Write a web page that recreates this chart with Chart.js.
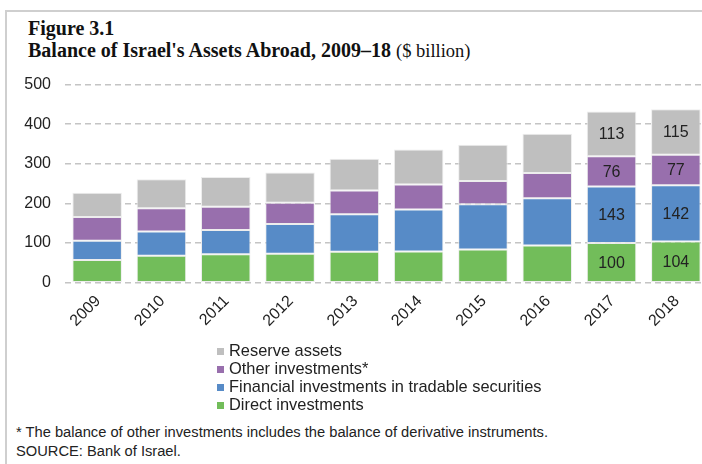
<!DOCTYPE html>
<html>
<head>
<meta charset="utf-8">
<script src="https://cdn.jsdelivr.net/npm/chart.js@4.4.1/dist/chart.umd.min.js"></script>
<style>
    html, body { margin: 0; padding: 0; background: #fff; overflow: hidden; width: 702px; height: 464px; }
    #frame { position: absolute; left: 5px; top: 10px; width: 720px; height: 470px; border-top: 2px solid #cfcfcf; border-left: 2px solid #cfcfcf; }
    .title { position: absolute; left: 28px; font-family: "Liberation Serif", "Times New Roman", serif; font-weight: bold; font-size: 20px; color: #111; white-space: nowrap; }
    .title span { font-weight: normal; font-size: 18.5px; }
    #chartBox { position: absolute; left: 0; top: 61px; width: 720px; height: 281px; }
    #legend { position: absolute; left: 217px; top: 341px; font-family: "Liberation Sans", Arial, sans-serif; font-size: 16.4px; color: #222; }
    #legend div { height: 18px; line-height: 18px; white-space: nowrap; }
    #legend i { display: inline-block; width: 7px; height: 7px; margin-right: 5px; vertical-align: 1px; }
    .note { position: absolute; left: 16px; font-family: "Liberation Sans", Arial, sans-serif; font-size: 14.7px; color: #222; white-space: nowrap; }
</style>
</head>
<body>
<div id="frame"></div>
<div class="title" style="top:17px">Figure 3.1</div>
<div class="title" style="top:39px">Balance of Israel's Assets Abroad, 2009–18 <span>($ billion)</span></div>
<div id="chartBox"><canvas id="chart" width="720" height="281"></canvas></div>
<div id="legend"></div>
<div class="note" style="top:424px">* The balance of other investments includes the balance of derivative instruments.</div>
<div class="note" style="top:443px">SOURCE: Bank of Israel.</div>
<script>
const years = ['2009', '2010', '2011', '2012', '2013', '2014', '2015', '2016', '2017', '2018'];
const directInvestments = [57, 68, 72, 73, 78, 79, 84, 94, 100, 104];
const financialInvestments = [49, 61, 61, 75, 95, 106, 114, 119, 143, 142];
const otherInvestments = [60, 59, 59, 54, 60, 63, 59, 64, 76, 77];
const reserveAssets = [61, 73, 75, 76, 80, 88, 91, 99, 113, 115];
const yTicks = [0, 100, 200, 300, 400, 500];
// only the last two years carry value labels
const labelledYears = ['2017', '2018'];

const datasets = [
    { label: 'Direct investments', data: directInvestments, backgroundColor: '#72bd5a' },
    { label: 'Financial investments in tradable securities', data: financialInvestments, backgroundColor: '#578bc7' },
    { label: 'Other investments*', data: otherInvestments, backgroundColor: '#986fad' },
    { label: 'Reserve assets', data: reserveAssets, backgroundColor: '#bfbfbf' }
];
datasets.forEach(ds => {
    ds.borderColor = 'rgba(235,235,235,0.9)';
    ds.borderWidth = 1;
    ds.borderSkipped = false;
    ds.barPercentage = 0.77;
    ds.categoryPercentage = 1;
});

// legend listed top-down in reverse stacking order
const legend = document.getElementById('legend');
datasets.slice().reverse().forEach(ds => {
    const row = document.createElement('div');
    const box = document.createElement('i');
    box.style.background = ds.backgroundColor;
    row.appendChild(box);
    row.appendChild(document.createTextNode(ds.label));
    legend.appendChild(row);
});

const valueLabels = {
    id: 'valueLabels',
    afterDatasetsDraw(chart) {
        const ctx = chart.ctx;
        ctx.save();
        ctx.font = '16px "Liberation Sans", Arial, sans-serif';
        ctx.fillStyle = '#222';
        ctx.textAlign = 'center';
        ctx.textBaseline = 'middle';
        chart.data.datasets.forEach((ds, i) => {
            chart.getDatasetMeta(i).data.forEach((bar, j) => {
                if (!labelledYears.includes(years[j])) return;
                const mid = (bar.y + bar.base) / 2;
                ctx.fillText(String(ds.data[j]), bar.x, mid + 1);
            });
        });
        ctx.restore();
    }
};

new Chart(document.getElementById('chart').getContext('2d'), {
    type: 'bar',
    data: { labels: years, datasets: datasets },
    options: {
        responsive: false,
        animation: false,
        layout: { padding: { top: 0, right: 12 } },
        plugins: { legend: { display: false }, tooltip: { enabled: false } },
        scales: {
            x: {
                stacked: true,
                grid: { display: false },
                border: { display: false },
                ticks: {
                    minRotation: 45, maxRotation: 45,
                    labelOffset: 1, padding: 1,
                    color: '#222',
                    font: { family: '"Liberation Sans", Arial, sans-serif', size: 16 }
                },
                afterFit: scale => { scale.height = 59.3; }
            },
            y: {
                stacked: true,
                min: 0, max: 500,
                afterBuildTicks: scale => { scale.ticks = yTicks.map(v => ({ value: v })); },
                grid: { color: '#c4c4c4', lineWidth: 1.6, drawTicks: false },
                border: { display: false, dash: [6, 4] },
                ticks: {
                    padding: 14,
                    color: '#222',
                    font: { family: '"Liberation Sans", Arial, sans-serif', size: 16 }
                },
                afterFit: scale => { scale.width = 65; }
            }
        }
    },
    plugins: [valueLabels]
});
</script>
</body>
</html>
